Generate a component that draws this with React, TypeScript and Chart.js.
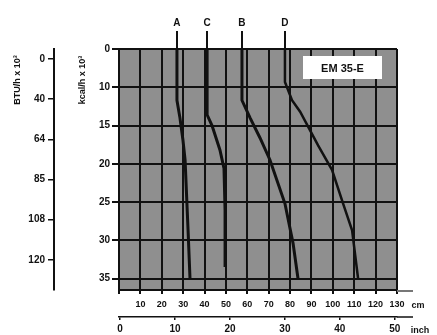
import React, { useEffect, useRef } from "react";
import { Chart, registerables } from "chart.js";

Chart.register(...registerables);

// ---- data ----
const kcalTickValues = [5, 10, 15, 20, 25, 30, 35];
const kcalTickLabels = ["0", "10", "15", "20", "25", "30", "35"];
const btuTickValues = [0, 1, 2, 3, 4, 5];
const btuTickLabels = ["0", "40", "64", "85", "108", "120"];
const cmTickValues = [0, 10, 20, 30, 40, 50, 60, 70, 80, 90, 100, 110, 120, 130];
const inchTickValues = [0, 10, 20, 30, 40, 50];
const curveNames = ["A", "C", "B", "D"];
const curveStartCm = [27.1, 41.2, 57.5, 77.6];

const curveA_cm = [27.1, 27.1, 28.5, 29.9, 30.9, 32.3, 33.2];
const curveA_kcal = [5, 11.7, 14.0, 16.9, 19.5, 28.7, 35.0];
const curveC_cm = [41.2, 41.2, 43.5, 47.2, 49.1, 49.6, 49.6];
const curveC_kcal = [5, 13.6, 15.0, 18.2, 20.6, 26.1, 33.5];
const curveB_cm = [57.5, 57.5, 61.3, 65.9, 70.6, 77.6, 81.4, 83.7];
const curveB_kcal = [5, 11.7, 14.0, 16.6, 19.5, 25.2, 30.4, 35.0];
const curveD_cm = [77.6, 77.6, 80.9, 84.7, 89.3, 93.1, 99.6, 104.8, 109.0, 111.8];
const curveD_kcal = [5, 9.3, 11.7, 13.2, 15.6, 17.6, 20.8, 25.2, 28.7, 35.0];

const modelLabel = "EM 35-E";
const btuTitle = "BTU/h x 10³";
const kcalTitle = "kcal/h x 10³";
const cmUnit = "cm";
const inchUnit = "inch";

const FONT_FAMILY = "'Liberation Sans', Arial, sans-serif";
const INK = "#111111";

const toPoints = (xs: number[], ys: number[]) => xs.map((x, i) => ({ x, y: ys[i] }));

const decorPlugin = {
  id: "decor",
  beforeDraw(chart: any) {
    const { ctx, chartArea } = chart;
    ctx.save();
    ctx.fillStyle = "#8f8f8f";
    ctx.fillRect(chartArea.left, chartArea.top, chartArea.right - chartArea.left, chartArea.bottom - chartArea.top);
    ctx.restore();
  },
  afterDraw(chart: any) {
    const { ctx, chartArea, scales } = chart;
    ctx.save();
    // model label box
    const bw = 79, bh = 23;
    const bx = chartArea.right - 15 - bw;
    const by = chartArea.top + 7;
    ctx.fillStyle = "#ffffff";
    ctx.fillRect(bx, by, bw, bh);
    ctx.fillStyle = INK;
    ctx.font = `bold 11px ${FONT_FAMILY}`;
    ctx.textAlign = "center";
    ctx.textBaseline = "middle";
    ctx.fillText(modelLabel, bx + bw / 2, by + bh / 2 + 1);

    // axis line extensions
    ctx.strokeStyle = "#777777";
    ctx.lineWidth = 2;
    ctx.beginPath();
    ctx.moveTo(chartArea.right, chartArea.bottom + 1);
    ctx.lineTo(chartArea.right + 16, chartArea.bottom + 1);
    ctx.stroke();
    const xi = scales.xInch;
    ctx.strokeStyle = INK;
    ctx.lineWidth = 1.5;
    ctx.beginPath();
    ctx.moveTo(chartArea.right, xi.top);
    ctx.lineTo(chartArea.right + 16, xi.top);
    ctx.stroke();

    // unit labels
    ctx.font = `bold 9px ${FONT_FAMILY}`;
    ctx.fillStyle = INK;
    ctx.textAlign = "center";
    ctx.fillText(cmUnit, chartArea.right + 21, scales.x.top + 16);
    ctx.fillText(inchUnit, chartArea.right + 23, xi.top + 14);

    // rotated axis titles
    ctx.font = `bold 9px ${FONT_FAMILY}`;
    const titleY = chartArea.top + 31;
    [[scales.yBtu.left + 18, btuTitle], [scales.y.left + 29, kcalTitle]].forEach(([tx, text]: any) => {
      ctx.save();
      ctx.translate(tx, titleY);
      ctx.rotate(-Math.PI / 2);
      ctx.textAlign = "center";
      ctx.textBaseline = "middle";
      ctx.fillText(text, 0, 0);
      ctx.restore();
    });
    ctx.restore();
  },
};

export default function App() {
  const canvasRef = useRef<HTMLCanvasElement | null>(null);

  useEffect(() => {
    const canvas = canvasRef.current;
    if (!canvas) return;
    const tickFont = { family: FONT_FAMILY, size: 10, weight: "bold" as const };
    const curves = [
      toPoints(curveA_cm, curveA_kcal),
      toPoints(curveC_cm, curveC_kcal),
      toPoints(curveB_cm, curveB_kcal),
      toPoints(curveD_cm, curveD_kcal),
    ];
    const chart = new Chart(canvas, {
      type: "line",
      data: {
        datasets: curves.map((pts, i) => ({
          label: curveNames[i],
          data: pts,
          borderColor: INK,
          borderWidth: i === 3 ? 2.5 : 3,
          pointRadius: 0,
          tension: 0,
          fill: false,
          xAxisID: "x",
          yAxisID: "y",
        })),
      },
      options: {
        animation: false,
        responsive: false,
        maintainAspectRatio: false,
        layout: { padding: { left: 0, right: 40, top: 0, bottom: 0 } },
        plugins: { legend: { display: false }, tooltip: { enabled: false } },
        scales: {
          x: {
            type: "linear",
            position: "bottom",
            min: 0,
            max: 130,
            weight: 0,
            afterBuildTicks: (s: any) => { s.ticks = cmTickValues.map((v) => ({ value: v })); },
            afterFit: (s: any) => { s.height = 27; },
            grid: { color: INK, lineWidth: 2, tickLength: 4, drawOnChartArea: true },
            border: { color: INK, width: 2 },
            ticks: {
              autoSkip: false,
              maxRotation: 0,
              padding: 5,
              color: INK,
              font: { ...tickFont, size: 9 },
              callback: (v: any) => (v === 0 ? "" : String(v)),
            },
          },
          xInch: {
            type: "linear",
            position: "bottom",
            min: -0.2,
            max: 50.4,
            weight: 1,
            afterBuildTicks: (s: any) => { s.ticks = inchTickValues.map((v) => ({ value: v })); },
            afterFit: (s: any) => { s.height = 18; },
            grid: { color: INK, lineWidth: 1.5, tickLength: 3, drawOnChartArea: false },
            border: { color: INK, width: 1.5 },
            ticks: {
              autoSkip: false,
              maxRotation: 0,
              padding: 3,
              color: INK,
              font: tickFont,
              callback: (v: any) => String(v),
            },
          },
          xTop: {
            type: "linear",
            position: "top",
            min: 0,
            max: 130,
            afterBuildTicks: (s: any) => { s.ticks = curveStartCm.map((v) => ({ value: v })); },
            afterFit: (s: any) => { s.height = 49; },
            grid: { color: INK, lineWidth: 2, tickLength: 18, drawOnChartArea: false },
            border: { display: false },
            ticks: {
              autoSkip: false,
              maxRotation: 0,
              padding: 2,
              color: INK,
              font: tickFont,
              callback: (_v: any, i: number) => curveNames[i],
            },
          },
          y: {
            type: "linear",
            position: "left",
            min: 5,
            max: 36.5,
            reverse: true,
            weight: 0,
            afterBuildTicks: (s: any) => { s.ticks = kcalTickValues.map((v) => ({ value: v })); },
            afterFit: (s: any) => { s.width = 65; },
            grid: { color: INK, lineWidth: 2, tickLength: 7, drawOnChartArea: true },
            border: { color: INK, width: 2 },
            ticks: {
              autoSkip: false,
              padding: 2,
              color: INK,
              font: tickFont,
              callback: (_v: any, i: number) => kcalTickLabels[i],
            },
          },
          yBtu: {
            type: "linear",
            position: "left",
            min: -0.25,
            max: 5.75,
            reverse: true,
            weight: 1,
            afterBuildTicks: (s: any) => { s.ticks = btuTickValues.map((v) => ({ value: v })); },
            afterFit: (s: any) => { s.width = 54; },
            grid: { color: INK, lineWidth: 1.5, tickLength: 6, drawOnChartArea: false },
            border: { color: INK, width: 2 },
            ticks: {
              autoSkip: false,
              padding: 3,
              color: INK,
              font: tickFont,
              callback: (_v: any, i: number) => btuTickLabels[i],
            },
          },
        },
      } as any,
      plugins: [decorPlugin],
    });
    return () => chart.destroy();
  }, []);

  return (
    <div style={{ position: "absolute", left: 0, top: 0, width: 437, height: 335 }}>
      <canvas ref={canvasRef} width={437} height={335} style={{ display: "block" }} />
    </div>
  );
}
